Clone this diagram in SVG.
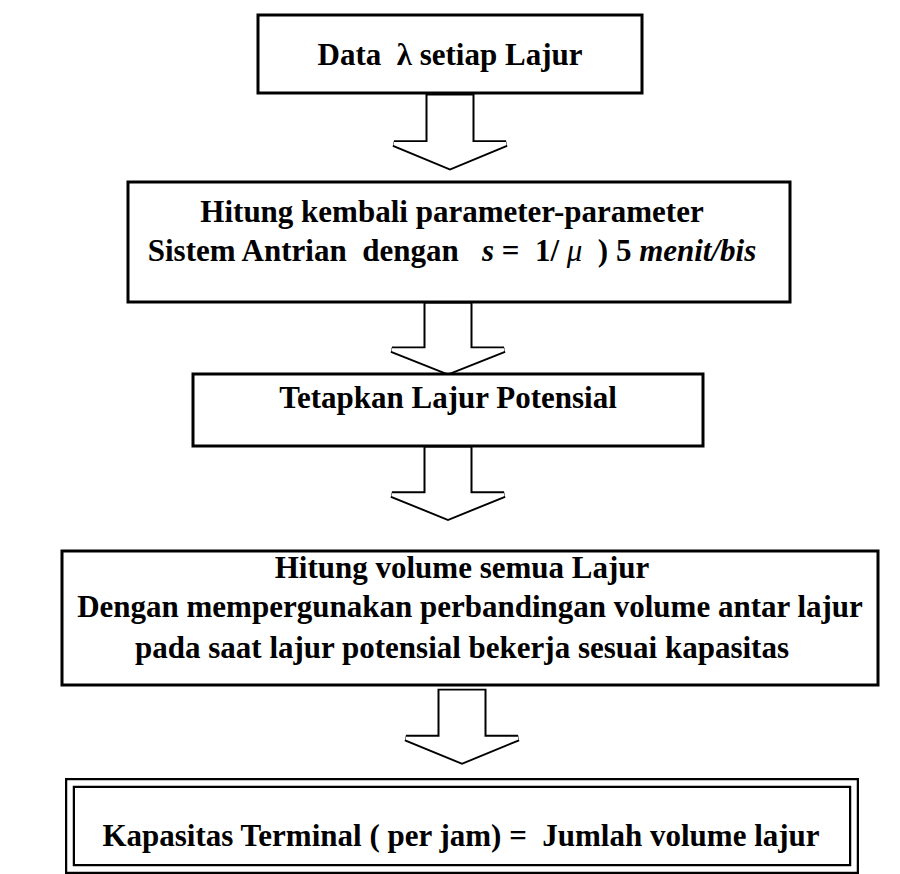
<svg xmlns="http://www.w3.org/2000/svg" width="900" height="874" viewBox="0 0 900 874">
<style>
.box{fill:#fff;stroke:#000;stroke-width:3}
.t{font-family:"Liberation Serif","Times New Roman",serif;font-weight:bold;font-size:31px;fill:#000;text-anchor:middle;white-space:pre}
.i{font-style:italic}
.ao{fill:#fff;stroke:#000;stroke-width:7;stroke-linejoin:miter}
.ai{fill:#fff;stroke:#fff;stroke-width:3;stroke-linejoin:miter}
.dbo{fill:#fff;stroke:#000;stroke-width:10}
.dbi{fill:none;stroke:#fff;stroke-width:5.5}
</style>
<defs>
<path id="arr" d="M-21,0 L21,0 L21,48 L56,48 L0,72 L-56,48 L-21,48 Z"/>
</defs>
<g id="connectors">
<g transform="translate(450,97) scale(1,0.97)"><use href="#arr" class="ao"/><use href="#arr" class="ai"/></g>
<g transform="translate(448,305) scale(1,0.93)"><use href="#arr" class="ao"/><use href="#arr" class="ai"/></g>
<g transform="translate(448,449) scale(1,0.95)"><use href="#arr" class="ao"/><use href="#arr" class="ai"/></g>
<g transform="translate(462,692) scale(1,0.96)"><use href="#arr" class="ao"/><use href="#arr" class="ai"/></g>
</g>
<g id="n1">
<rect class="box" x="258" y="15" width="384" height="78"/>
<text class="t" x="450" y="65">Data  λ setiap Lajur</text>
</g>
<g id="n2">
<rect class="box" x="128" y="182" width="662" height="120"/>
<text class="t" x="452" y="222">Hitung kembali parameter-parameter</text>
<text class="t" x="452" y="261">Sistem Antrian  dengan   <tspan class="i">s</tspan> =  1/ <tspan class="i" font-weight="normal">μ</tspan>  ) 5 <tspan class="i">menit/bis</tspan></text>
</g>
<g id="n3">
<rect class="box" x="193" y="374" width="510" height="72"/>
<text class="t" x="448" y="408">Tetapkan Lajur Potensial</text>
</g>
<g id="n4">
<rect class="box" x="62" y="551" width="816" height="134"/>
<text class="t" x="462" y="578">Hitung volume semua Lajur</text>
<text class="t" x="470" y="617">Dengan mempergunakan perbandingan volume antar lajur</text>
<text class="t" x="462" y="658">pada saat lajur potensial bekerja sesuai kapasitas</text>
</g>
<g id="n5">
<rect class="dbo" x="70" y="783" width="784" height="86"/>
<rect class="dbi" x="70" y="783" width="784" height="86"/>
<text class="t" x="461" y="846">Kapasitas Terminal ( per jam) =  Jumlah volume lajur</text>
</g>
</svg>
